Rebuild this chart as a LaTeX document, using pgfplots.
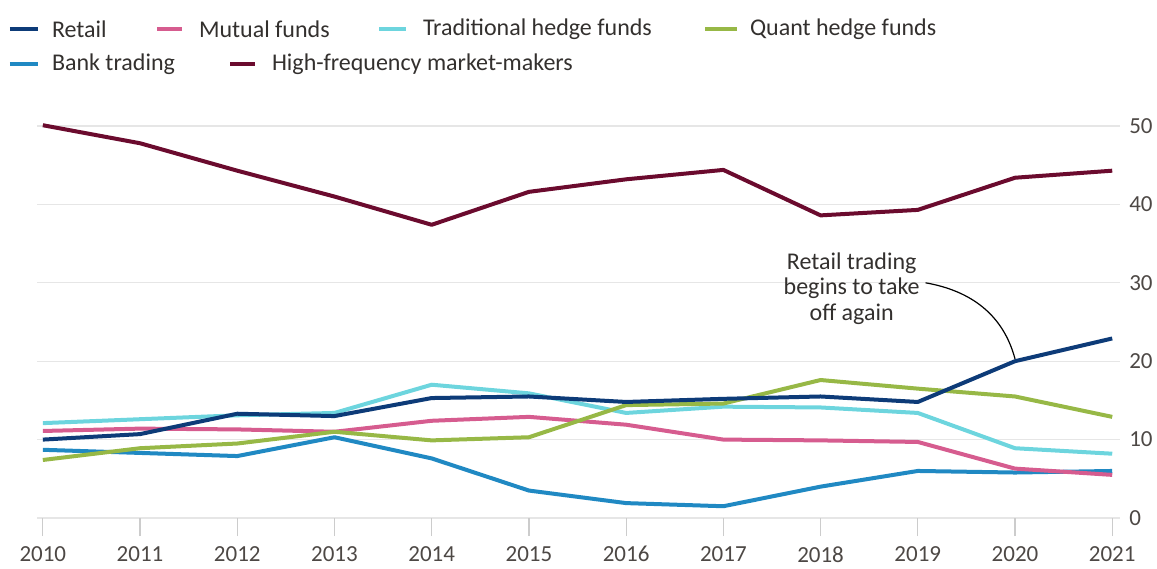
\documentclass[border=0pt]{standalone}
\usepackage{pgfplots}
\pgfplotsset{compat=1.18}
\usepackage{pgfplotstable}
\usepackage{fontspec}
\setmainfont{Carlito}

\definecolor{retail}{RGB}{13,59,120}
\definecolor{mutual}{RGB}{214,92,143}
\definecolor{tradhf}{RGB}{109,213,222}
\definecolor{quanthf}{RGB}{151,184,70}
\definecolor{bank}{RGB}{32,137,195}
\definecolor{hft}{RGB}{107,11,46}
\definecolor{gridgray}{RGB}{230,230,230}
\definecolor{tickgray}{RGB}{204,204,204}
\definecolor{txt}{RGB}{51,48,46}
\definecolor{ticktxt}{RGB}{77,72,69}

% share of trading, per cent
\pgfplotstableread{
year retail mutual trad quant bank hft
2010 10.0 11.1 12.1 7.4  8.7  50.1
2011 10.7 11.4 12.6 8.9  8.3  47.8
2012 13.3 11.3 13.1 9.5  7.9  44.3
2013 13.0 11.0 13.4 11.0 10.3 41.0
2014 15.3 12.4 17.0 9.9  7.6  37.4
2015 15.5 12.9 15.9 10.3 3.5  41.6
2016 14.8 11.9 13.4 14.4 1.9  43.2
2017 15.2 10.0 14.2 14.6 1.5  44.4
2018 15.5 9.9  14.1 17.6 4.0  38.6
2019 14.8 9.7  13.4 16.5 6.0  39.3
2020 20.0 6.3  8.9  15.5 5.8  43.4
2021 22.9 5.5  8.2  12.9 6.0  44.3
}\shares

\begin{document}
\begin{tikzpicture}
\path[use as bounding box] (-18.5pt,-25pt) rectangle (560pt,259pt);
\begin{axis}[
  at={(0,0)}, anchor=south west,
  scale only axis,
  width=541.5pt, height=196pt,
  xmin=2009.94, xmax=2021.08,
  ymin=0, ymax=50,
  clip=false,
  axis line style={draw=none},
  ymajorgrids,
  grid style={gridgray, line width=0.6pt},
  xtick={2010,2011,...,2021},
  ytick={0,10,20,30,40,50},
  xtick pos=bottom,
  tick align=outside,
  major tick length=9pt,
  x tick style={tickgray, line width=0.6pt},
  y tick style={draw=none},
  yticklabel pos=right,
  /pgf/number format/1000 sep={},
  /pgf/number format/assume math mode=true,
  ticklabel style={font=\fontsize{11.5}{12}\selectfont, text=ticktxt},
  yticklabel style={anchor=west, inner sep=0pt, xshift=-4.5pt},
  xticklabel style={anchor=north, inner sep=0pt, yshift=-5pt},
  every axis plot/.append style={line width=2pt, line join=round, no markers},
]
\addplot[bank] table[x=year, y=bank] {\shares};
\addplot[mutual] table[x=year, y=mutual] {\shares};
\addplot[tradhf] table[x=year, y=trad] {\shares};
\addplot[quanthf] table[x=year, y=quant] {\shares};
\addplot[retail] table[x=year, y=retail] {\shares};
\addplot[hft] table[x=year, y=hft] {\shares};

\node[align=center, text=txt, font=\fontsize{12}{12.75}\selectfont]
  at (axis cs:2018.32,29.3) {Retail trading\\begins to take\\off again};
\draw[black, line width=0.6pt] (axis cs:2019.08,30.0)
  to[out=-10, in=105] (axis cs:2020,20.3);
\end{axis}

% legend
\begin{scope}[line width=2pt, font=\fontsize{12}{13}\selectfont]
  \draw[retail] (-13.5pt,244.5pt) -- (0.5pt,244.5pt);
  \node[anchor=west, inner sep=0pt, text=txt] at (6.5pt,244.5pt) {Retail};
  \draw[mutual] (60pt,244.5pt) -- (72.5pt,244.5pt);
  \node[anchor=west, inner sep=0pt, text=txt] at (80pt,244.5pt) {Mutual funds};
  \draw[tradhf] (171pt,244.5pt) -- (184.5pt,244.5pt);
  \node[anchor=west, inner sep=0pt, text=txt] at (192pt,244.5pt) {Traditional hedge funds};
  \draw[quanthf] (334pt,244.5pt) -- (350pt,244.5pt);
  \node[anchor=west, inner sep=0pt, text=txt] at (355.5pt,244.5pt) {Quant hedge funds};
  \draw[bank] (-13.5pt,227pt) -- (0.5pt,227pt);
  \node[anchor=west, inner sep=0pt, text=txt] at (6.5pt,227pt) {Bank trading};
  \draw[hft] (96.5pt,227pt) -- (109pt,227pt);
  \node[anchor=west, inner sep=0pt, text=txt] at (116.5pt,227pt) {High-frequency market-makers};
\end{scope}
\end{tikzpicture}
\end{document}
